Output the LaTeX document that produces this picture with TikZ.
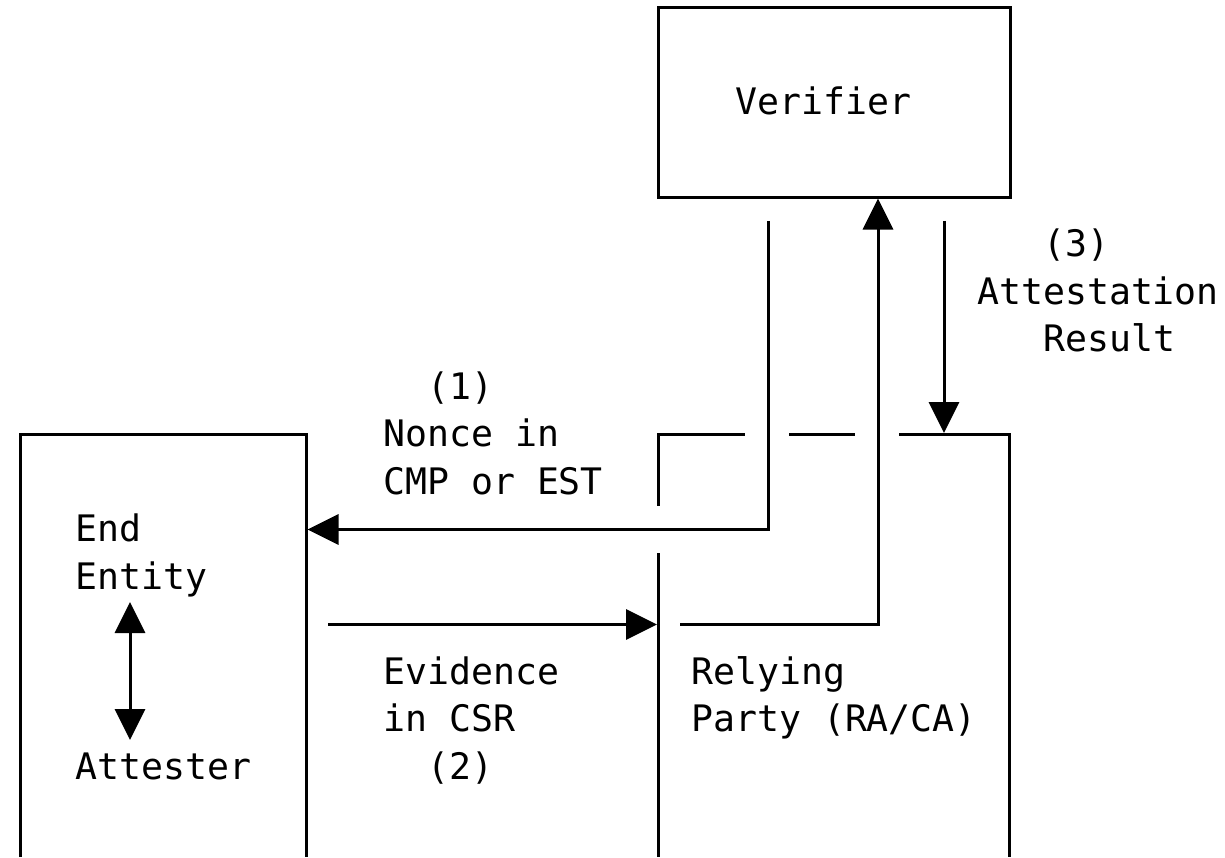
\documentclass[tikz,border=0pt]{standalone}
\usepackage{fontspec}
\setmonofont{DejaVu Sans Mono}
\usetikzlibrary{arrows.meta}
\begin{document}
\begin{tikzpicture}[x=1pt,y=-1pt,
  ln/.style={line width=3pt, line cap=butt, line join=miter},
  tip/.tip={Triangle[length=31pt,width=30pt]},
  arr/.style={ln,-tip},
  darr/.style={ln,tip-tip},
  lbl/.style={font=\ttfamily\fontsize{36.5}{44}\selectfont, inner sep=0pt, anchor=base west},
]
\useasboundingbox (0,0) rectangle (1225,857);
% Verifier box
\node[ln, draw, rectangle, minimum width=352pt, minimum height=190pt, inner sep=0pt] (ver) at (834,102) {};
\node[lbl] (verlbl) at (735,114) {Verifier};
% End Entity box (open at bottom)
\coordinate (eeBL) at (20,857);
\coordinate (eeTL) at (20,434.5);
\coordinate (eeTR) at (306,434.5);
\coordinate (eeBR) at (306,857);
\draw[ln] (eeBL) -- (eeTL) -- (eeTR) -- (eeBR);
% Relying Party box (broken top)
\coordinate (rpA) at (658,505.75);
\coordinate (rpTL) at (658,434.5);
\coordinate (rpB) at (745,434.5);
\coordinate (rpC) at (789,434.5);
\coordinate (rpD) at (855,434.5);
\coordinate (rpE) at (899,434.5);
\coordinate (rpTR) at (1009,434.5);
\coordinate (rpBR) at (1009,857);
\coordinate (rpL1) at (658,553);
\coordinate (rpBL) at (658,857);
\draw[ln] (rpA) -- (rpTL) -- (rpB);
\draw[ln] (rpC) -- (rpD);
\draw[ln] (rpE) -- (rpTR) -- (rpBR);
\draw[ln] (rpL1) -- (rpBL);
% (1) nonce
\coordinate (n0) at (768,220.75);
\coordinate (n1) at (768,529.5);
\coordinate (n2) at (307.5,529.5);
\draw[arr] (n0) -- (n1) -- (n2);
% (2) evidence
\coordinate (e0) at (328,624.5);
\coordinate (e1) at (657,624.5);
\draw[arr] (e0) -- (e1);
% to verifier
\coordinate (u0) at (680,624.5);
\coordinate (u1) at (878,624.5);
\coordinate (u2) at (878,198.5);
\draw[arr] (u0) -- (u1) -- (u2);
% (3) result
\coordinate (r0) at (944,220.75);
\coordinate (r1) at (944,433);
\draw[arr] (r0) -- (r1);
% inner arrow
\coordinate (a0) at (130,602);
\coordinate (a1) at (130,740);
\draw[darr] (a0) -- (a1);
% labels
\node[lbl] (t1a) at (427,399) {(1)};
\node[lbl] (t1b) at (383,446.5) {Nonce in};
\node[lbl] (t1c) at (383,494) {CMP or EST};
\node[lbl] (t3a) at (1043,256.5) {(3)};
\node[lbl] (t3b) at (977,304) {Attestation};
\node[lbl] (t3c) at (1043,351.5) {Result};
\node[lbl] (ee1) at (75,541.5) {End};
\node[lbl] (ee2) at (75,589) {Entity};
\node[lbl] (ee3) at (75,779) {Attester};
\node[lbl] (t2a) at (383,684) {Evidence};
\node[lbl] (t2b) at (383,731.5) {in CSR};
\node[lbl] (t2c) at (427,779) {(2)};
\node[lbl] (rp1) at (691,684) {Relying};
\node[lbl] (rp2) at (691,731.5) {Party (RA/CA)};
\end{tikzpicture}
\end{document}
